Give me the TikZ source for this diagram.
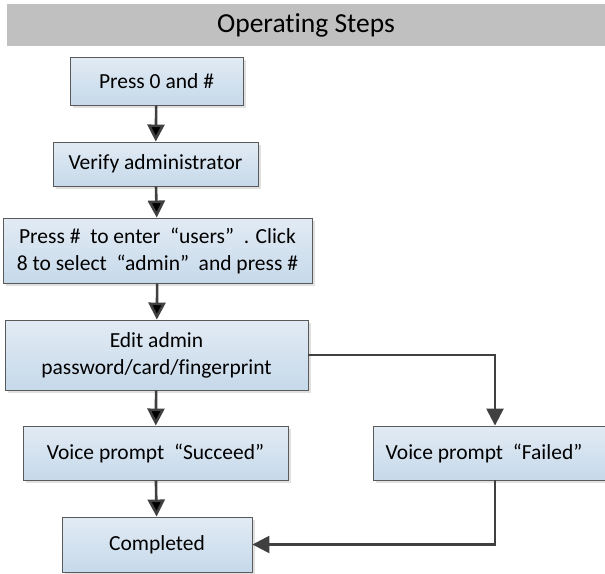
\documentclass[tikz,border=0pt]{standalone}
\usepackage{fontspec}
\setmainfont{Carlito}[Ligatures=NoCommon]
\usetikzlibrary{arrows.meta,shadows,positioning}

\definecolor{bandgray}{HTML}{C0C0C0}
\definecolor{boxtop}{HTML}{E2EBF4}
\definecolor{boxbottom}{HTML}{C6D9EA}
\definecolor{boxline}{HTML}{5A5A5A}
\definecolor{flowline}{HTML}{404040}

\tikzset{
  stepbox/.style={draw=boxline, line width=0.9pt, top color=boxtop, bottom color=boxbottom,
    inner sep=0pt, align=center, font=\fontsize{21.5}{27}\selectfont,
    drop shadow={shadow xshift=3pt, shadow yshift=-3pt, fill=black!12, opacity=1}},
  flow/.style={->, draw=flowline, line width=2.6pt}
}

\begin{document}
\begin{tikzpicture}[x=1pt, y=-1pt, >={Triangle[length=17pt,width=17pt]}]
  \useasboundingbox (0,0) rectangle (605,573);
  \node[fill=bandgray, minimum width=598pt, minimum height=42pt, inner sep=0pt,
        font=\fontsize{27.5}{32}\selectfont] (title) at (306,25) {Operating Steps};

  \node[stepbox, minimum width=173pt, minimum height=48pt] (press)   at (156.5,81)  {Press 0 and \#};
  \node[stepbox, minimum width=205pt, minimum height=44pt] (verify)  at (155.5,164) {Verify administrator};
  \node[stepbox, minimum width=309pt, minimum height=65pt] (users)   at (157.5,250.5)
    {Press \#\ \ to enter \ “users” \ . Click\\8 to select \ “admin” \ and press \#};
  \node[stepbox, minimum width=303pt, minimum height=70pt] (edit)    at (156.5,355)
    {Edit admin\\password/card/fingerprint};
  \node[stepbox, minimum width=265pt, minimum height=54pt] (succeed) at (155.5,453) {Voice prompt \ “Succeed”};
  \node[stepbox, minimum width=244pt, minimum height=54pt] (failed)  at (495,453)   {Voice prompt \ “Failed”\hspace{22pt}};
  \node[stepbox, minimum width=190pt, minimum height=55pt] (done)    at (157,544.5) {Completed};

  \path[flow] (press)   edge (verify)
              (verify)  edge (users)
              (users)   edge (edit)
              (edit)    edge (succeed)
              (succeed) edge (done);
  \draw[flow] (edit.east) -| (failed.north);
  \draw[flow] (failed.south) |- (done.east);
\end{tikzpicture}
\end{document}
